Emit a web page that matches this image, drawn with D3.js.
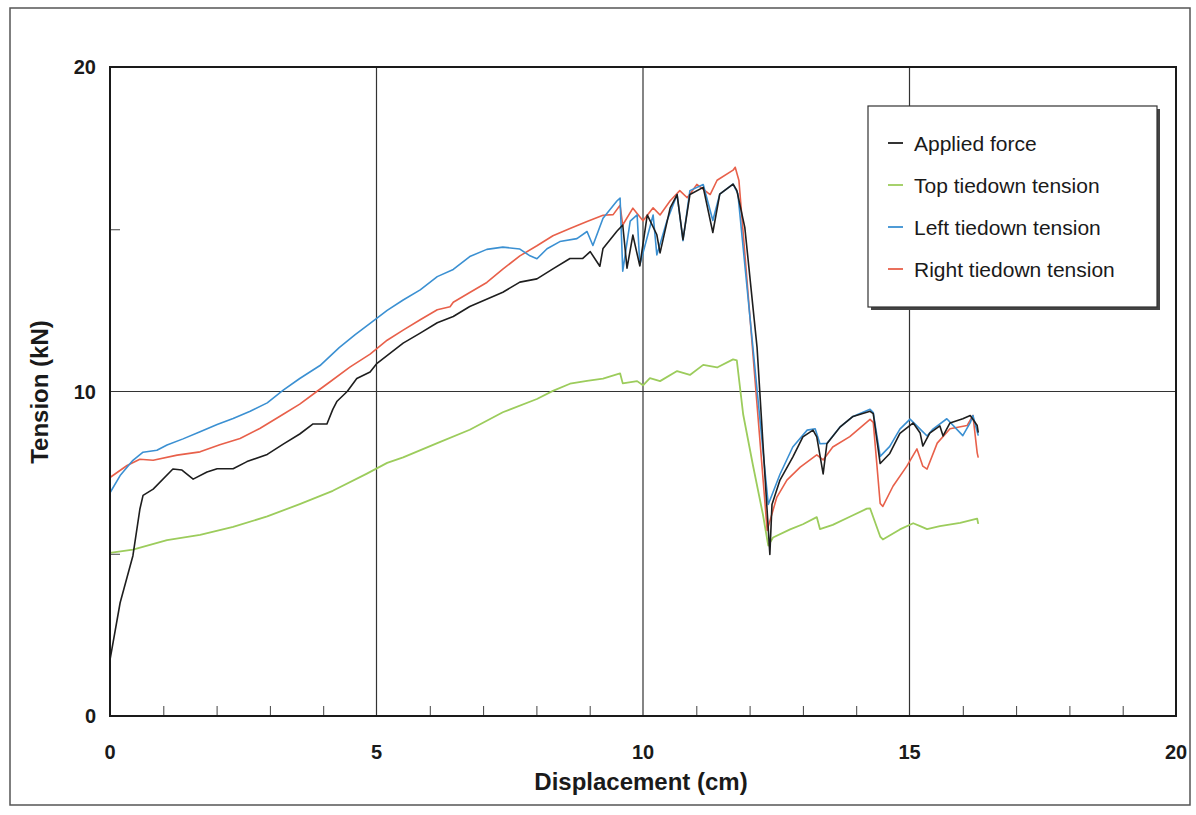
<!DOCTYPE html>
<html>
<head>
<meta charset="utf-8">
<script src="https://cdn.jsdelivr.net/npm/d3@7"></script>
<style>
  body { margin: 0; background: #ffffff; }
  svg { display: block; font-family: "Liberation Sans", Arial, Helvetica, sans-serif; }
</style>
</head>
<body>
<svg id="chart" width="1196" height="815"></svg>
<script>

// Data: [displacement (cm), tension (kN)]
var appliedForce = [[0,1.73],[0.19,3.49],[0.43,4.94],[0.56,6.37],[0.62,6.80],[0.81,6.99],[1.18,7.61],[1.35,7.58],[1.56,7.30],[1.82,7.52],[2.01,7.62],[2.31,7.62],[2.57,7.84],[2.95,8.06],[3.25,8.38],[3.56,8.69],[3.81,9.00],[4.0,9.00],[4.07,9.0],[4.18,9.45],[4.26,9.7],[4.45,10.0],[4.63,10.4],[4.88,10.6],[5.01,10.87],[5.50,11.49],[5.82,11.80],[6.14,12.12],[6.44,12.31],[6.75,12.62],[7.37,13.06],[7.69,13.37],[8.01,13.47],[8.31,13.78],[8.63,14.10],[8.87,14.10],[9.01,14.31],[9.19,13.86],[9.25,14.41],[9.51,14.94],[9.62,15.13],[9.70,13.80],[9.81,14.82],[9.94,13.87],[10.08,15.44],[10.26,14.83],[10.32,14.27],[10.51,15.66],[10.64,16.07],[10.75,14.68],[10.88,16.07],[11.13,16.29],[11.31,14.90],[11.44,16.08],[11.69,16.39],[11.76,16.20],[11.91,15.06],[12.14,11.36],[12.29,7.35],[12.38,4.98],[12.42,6.52],[12.57,7.27],[12.81,7.98],[13.0,8.60],[13.19,8.81],[13.26,8.60],[13.38,7.46],[13.45,8.39],[13.70,8.91],[13.94,9.23],[14.26,9.39],[14.32,9.32],[14.45,7.78],[14.63,8.09],[14.82,8.71],[15.07,9.03],[15.20,8.72],[15.25,8.32],[15.38,8.72],[15.57,8.94],[15.63,8.63],[15.76,9.03],[16.0,9.16],[16.14,9.26],[16.27,8.95],[16.29,8.73]];

var topTiedown = [[0,5.03],[0.43,5.13],[1.07,5.42],[1.69,5.58],[2.31,5.83],[2.95,6.15],[3.56,6.53],[4.18,6.94],[4.82,7.47],[5.2,7.8],[5.5,7.97],[6.14,8.41],[6.75,8.82],[7.37,9.36],[8.01,9.77],[8.31,10.02],[8.63,10.24],[8.95,10.33],[9.25,10.40],[9.57,10.56],[9.62,10.25],[9.89,10.32],[10.0,10.19],[10.13,10.41],[10.32,10.32],[10.64,10.63],[10.88,10.51],[11.13,10.82],[11.39,10.74],[11.69,10.99],[11.76,10.96],[11.88,9.29],[12.06,7.75],[12.25,6.21],[12.35,5.25],[12.44,5.50],[12.76,5.75],[13.0,5.91],[13.26,6.13],[13.32,5.76],[13.56,5.89],[13.88,6.14],[14.2,6.39],[14.26,6.4],[14.45,5.53],[14.5,5.44],[14.82,5.75],[15.07,5.94],[15.2,5.85],[15.33,5.76],[15.57,5.85],[15.95,5.95],[16.27,6.08],[16.29,5.92]];

var leftTiedown = [[0,6.88],[0.19,7.41],[0.43,7.88],[0.62,8.13],[0.88,8.19],[1.07,8.35],[1.37,8.54],[1.69,8.76],[2.01,8.98],[2.31,9.17],[2.63,9.39],[2.95,9.65],[3.25,10.04],[3.56,10.4],[3.94,10.8],[4.3,11.35],[4.6,11.75],[4.88,12.10],[5.2,12.50],[5.5,12.82],[5.82,13.13],[6.14,13.54],[6.44,13.76],[6.75,14.16],[7.07,14.38],[7.37,14.45],[7.69,14.39],[7.88,14.18],[8.01,14.09],[8.2,14.40],[8.44,14.62],[8.76,14.71],[8.95,14.93],[9.06,14.50],[9.25,15.34],[9.51,15.87],[9.57,15.96],[9.62,13.71],[9.76,15.25],[9.89,15.44],[9.94,13.90],[10.19,15.44],[10.26,14.21],[10.45,15.26],[10.64,16.07],[10.75,14.65],[10.88,16.19],[11.13,16.38],[11.31,15.27],[11.44,16.08],[11.69,16.39],[11.78,16.1],[12.35,6.52],[12.57,7.45],[12.81,8.29],[13.08,8.81],[13.23,8.85],[13.32,8.39],[13.45,8.40],[13.70,8.91],[13.94,9.23],[14.26,9.45],[14.32,9.35],[14.45,8.00],[14.63,8.31],[14.82,8.84],[15.01,9.15],[15.2,8.84],[15.33,8.63],[15.44,8.84],[15.7,9.16],[16.0,8.64],[16.14,9.04],[16.19,9.26],[16.29,8.64]];

var rightTiedown = [[0,7.35],[0.32,7.72],[0.56,7.91],[0.81,7.88],[1.26,8.04],[1.69,8.14],[2.06,8.36],[2.44,8.55],[2.81,8.86],[3.25,9.30],[3.56,9.61],[3.88,10.0],[4.13,10.3],[4.5,10.75],[4.88,11.15],[5.2,11.58],[5.5,11.89],[5.82,12.21],[6.14,12.52],[6.38,12.61],[6.44,12.75],[6.75,13.05],[7.07,13.36],[7.37,13.77],[7.69,14.18],[8.01,14.49],[8.31,14.80],[8.63,15.02],[8.95,15.24],[9.25,15.43],[9.44,15.45],[9.57,15.74],[9.62,15.13],[9.81,15.65],[10.0,15.26],[10.19,15.66],[10.32,15.44],[10.51,15.88],[10.69,16.19],[10.83,15.97],[11.01,16.38],[11.26,16.07],[11.39,16.51],[11.69,16.82],[11.73,16.91],[11.8,16.5],[12.33,5.72],[12.51,6.74],[12.7,7.27],[12.95,7.67],[13.26,8.05],[13.38,7.89],[13.56,8.29],[13.88,8.61],[14.26,9.14],[14.32,9.05],[14.45,6.55],[14.5,6.46],[14.69,7.08],[14.95,7.70],[15.14,8.23],[15.25,7.70],[15.33,7.61],[15.52,8.41],[15.76,8.85],[16.08,8.95],[16.19,9.26],[16.27,8.11],[16.29,7.96]];

var seriesNames = ["Applied force", "Top tiedown tension", "Left tiedown tension", "Right tiedown tension"];
var seriesColors = ["#1e1e1e", "#9ccc5c", "#3b90d2", "#e8604a"];
var xTicks = [0, 5, 10, 15, 20];
var yTicks = [0, 10, 20];
var xMinorTicks = [1, 2, 3, 4, 6, 7, 8, 9, 11, 12, 13, 14, 16, 17, 18, 19];
var yMinorTicks = [5, 15];

// Plot area (note: "top" is reserved on window, so use plot* names)
var plotLeft = 110, plotTop = 67, plotRight = 1176, plotBottom = 716;

var svg = d3.select("#chart");

var x = d3.scaleLinear().domain([0, 20]).range([plotLeft, plotRight]);
var y = d3.scaleLinear().domain([0, 20]).range([plotBottom, plotTop]);

// Outer frame of the figure
svg.append("rect")
    .attr("x", 10).attr("y", 8)
    .attr("width", 1180).attr("height", 797)
    .attr("fill", "none")
    .attr("stroke", "#555")
    .attr("stroke-width", 1.5);

// Grid lines (only major values inside the plot)
svg.append("g")
    .selectAll("line")
    .data(xTicks.filter(d => d > 0 && d < 20))
    .join("line")
    .attr("x1", d => x(d)).attr("x2", d => x(d))
    .attr("y1", plotTop).attr("y2", plotBottom)
    .attr("stroke", "#333").attr("stroke-width", 1.2);

svg.append("g")
    .selectAll("line")
    .data(yTicks.filter(d => d > 0 && d < 20))
    .join("line")
    .attr("x1", plotLeft).attr("x2", plotRight)
    .attr("y1", d => y(d)).attr("y2", d => y(d))
    .attr("stroke", "#333").attr("stroke-width", 1.2);

// Minor ticks pointing inward
var bottomAxis = d3.axisBottom(x).tickValues(xMinorTicks).tickSize(-10).tickFormat("");
svg.append("g")
    .attr("transform", `translate(0,${plotBottom})`)
    .call(bottomAxis)
    .call(g => g.select(".domain").remove())
    .call(g => g.selectAll("line").attr("stroke", "#444"));

var leftAxis = d3.axisLeft(y).tickValues(yMinorTicks).tickSize(-10).tickFormat("");
svg.append("g")
    .attr("transform", `translate(${plotLeft},0)`)
    .call(leftAxis)
    .call(g => g.select(".domain").remove())
    .call(g => g.selectAll("line").attr("stroke", "#444"));

// Tick labels
svg.append("g")
    .selectAll("text")
    .data(xTicks)
    .join("text")
    .attr("x", d => x(d))
    .attr("y", 759)
    .attr("text-anchor", "middle")
    .attr("font-size", 20)
    .attr("font-weight", "bold")
    .attr("fill", "#1a1a1a")
    .text(d => d);

svg.append("g")
    .selectAll("text")
    .data(yTicks)
    .join("text")
    .attr("x", 96)
    .attr("y", d => y(d) + 7)
    .attr("text-anchor", "end")
    .attr("font-size", 20)
    .attr("font-weight", "bold")
    .attr("fill", "#1a1a1a")
    .text(d => d);

// Axis titles
svg.append("text")
    .attr("x", 641).attr("y", 790)
    .attr("text-anchor", "middle")
    .attr("font-size", 24)
    .attr("font-weight", "bold")
    .attr("fill", "#1a1a1a")
    .text("Displacement (cm)");

svg.append("text")
    .attr("transform", "translate(48,392) rotate(-90)")
    .attr("text-anchor", "middle")
    .attr("font-size", 24)
    .attr("font-weight", "bold")
    .attr("fill", "#1a1a1a")
    .text("Tension (kN)");

// Data lines
var line = d3.line()
    .x(d => x(d[0]))
    .y(d => y(d[1]));

var allSeries = [appliedForce, topTiedown, leftTiedown, rightTiedown];
var drawOrder = [1, 3, 2, 0];

drawOrder.forEach(i => {
    svg.append("path")
        .datum(allSeries[i])
        .attr("d", line)
        .attr("fill", "none")
        .attr("stroke", seriesColors[i])
        .attr("stroke-width", i === 1 ? 1.8 : 1.6)
        .attr("stroke-linejoin", "round");
});

// Plot frame
svg.append("rect")
    .attr("x", plotLeft).attr("y", plotTop)
    .attr("width", plotRight - plotLeft).attr("height", plotBottom - plotTop)
    .attr("fill", "none")
    .attr("stroke", "#1a1a1a")
    .attr("stroke-width", 2);

// Legend with drop shadow
var legend = svg.append("g");
legend.append("rect")
    .attr("x", 871).attr("y", 109)
    .attr("width", 289).attr("height", 201)
    .attr("fill", "#444");
legend.append("rect")
    .attr("x", 868).attr("y", 106)
    .attr("width", 289).attr("height", 201)
    .attr("fill", "#ffffff")
    .attr("stroke", "#333")
    .attr("stroke-width", 1.2);

var legendItems = legend.selectAll("g")
    .data(seriesNames)
    .join("g")
    .attr("transform", (d, i) => `translate(0,${143 + i * 42})`);

legendItems.append("line")
    .attr("x1", 888).attr("x2", 903)
    .attr("y1", 0).attr("y2", 0)
    .attr("stroke", (d, i) => seriesColors[i])
    .attr("stroke-width", 1.8);

legendItems.append("text")
    .attr("x", 914)
    .attr("y", 8)
    .attr("font-size", 21)
    .attr("fill", "#1a1a1a")
    .text(d => d);

</script>
</body>
</html>
